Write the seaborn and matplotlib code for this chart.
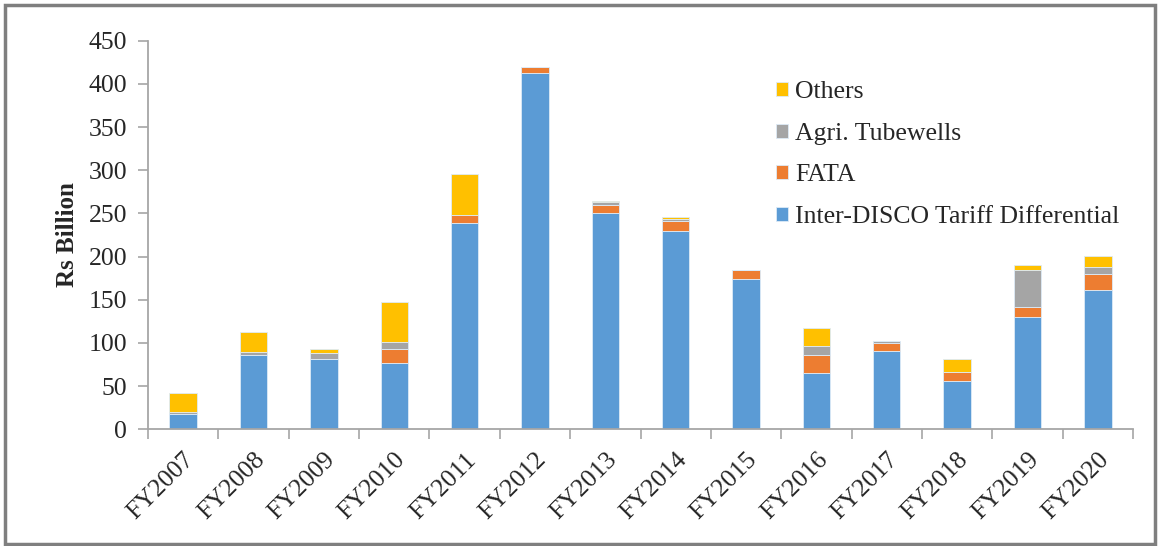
import matplotlib
matplotlib.use("Agg")
import matplotlib.pyplot as plt
import seaborn as sns
import numpy as np
import pandas as pd
from matplotlib.patches import Rectangle
from matplotlib.ticker import MultipleLocator

years = ["FY2007", "FY2008", "FY2009", "FY2010", "FY2011", "FY2012", "FY2013",
         "FY2014", "FY2015", "FY2016", "FY2017", "FY2018", "FY2019", "FY2020"]
inter_disco = [17.5, 86, 81.5, 76.5, 238.5, 412, 250, 229.5, 174, 65, 90.5, 56.5, 130, 161.5]
fata = [0, 0, 0, 16.5, 10, 7, 9.5, 11.5, 10, 21, 10, 10, 11.5, 18.5]
agri = [2.5, 4, 7, 8, 0, 0, 3.5, 3, 1, 11, 2, 0, 43, 8]
others = [22, 23, 4.5, 46, 47, 0, 1.5, 1.5, 0, 20, 0, 14.5, 5.5, 13]

series = ["Inter-DISCO Tariff Differential", "FATA", "Agri. Tubewells", "Others"]
colors = ["#5B9BD5", "#ED7D31", "#A5A5A5", "#FFC000"]

sns.set_style("white")
plt.rcParams["font.family"] = ["Liberation Serif", "DejaVu Serif"]

fig = plt.figure(figsize=(11.61, 5.46), dpi=100)
ax = fig.add_axes([0.1275, 0.2137, 0.8484, 0.7118])

df = pd.DataFrame({"year": years, series[0]: inter_disco, series[1]: fata,
                   series[2]: agri, series[3]: others})
bottom = np.zeros(len(years))
for name, col in zip(series, colors):
    vals = df[name].to_numpy(dtype=float)
    sns.barplot(x=df["year"], y=vals, bottom=bottom, color=col, width=0.39,
                edgecolor="#DDEBF7", linewidth=0.6, ax=ax, label=name,
                order=years, saturation=1)
    bottom = bottom + vals

ax.set_ylim(0, 450)
ax.set_xlim(-0.5, len(years) - 0.5)
ax.yaxis.set_major_locator(MultipleLocator(50))
ax.set_xlabel("")
ax.set_ylabel("Rs Billion", fontsize=18, fontweight="bold", labelpad=7)

for s in ["top", "right"]:
    ax.spines[s].set_visible(False)
for s in ["left", "bottom"]:
    ax.spines[s].set_color("#A6A6A6")
    ax.spines[s].set_linewidth(1.3)

ax.tick_params(axis="y", direction="out", length=7, width=1.2, color="#A6A6A6",
               labelsize=18.5, pad=8, left=True)
ax.set_xticks(range(len(years)))
ax.set_xticklabels(years, rotation=45, ha="right", rotation_mode="anchor", fontsize=18.5)
ax.tick_params(axis="x", which="major", length=0, pad=14)
ax.set_xticks(np.arange(-0.5, len(years)), minor=True)
ax.tick_params(axis="x", which="minor", direction="out", length=7, width=1.2,
               color="#A6A6A6", bottom=True)

handles, labels = ax.get_legend_handles_labels()
ax.legend(handles[::-1], labels[::-1], loc="upper left", bbox_to_anchor=(0.614, 0.955),
          frameon=False, fontsize=18.5, handlelength=0.45, handleheight=0.45,
          handletextpad=0.3, labelspacing=0.76)

fig.patches.append(Rectangle((5 / 1161, 2 / 546), 1150 / 1161, 539 / 546,
                             transform=fig.transFigure, fill=False,
                             edgecolor="#7F7F7F", linewidth=2.5))

fig.savefig("out.png", dpi=100)
